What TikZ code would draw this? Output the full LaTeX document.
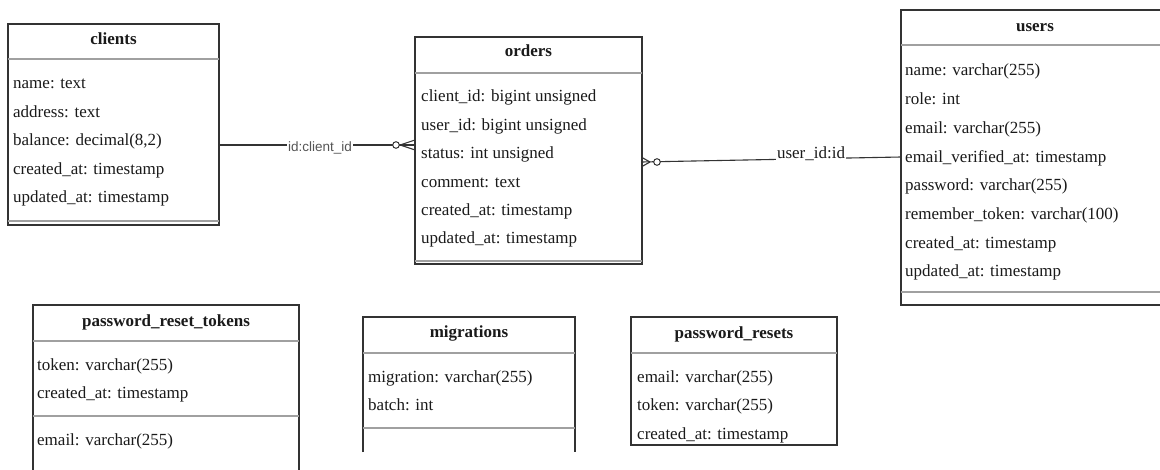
\documentclass[tikz,border=0pt]{standalone}
\usepackage{fontspec}
\setmainfont{Liberation Serif}
\newfontfamily\lsans{Liberation Sans}
\definecolor{bord}{HTML}{333333}
\definecolor{txt}{HTML}{1A1A1A}
\definecolor{sepc}{HTML}{A0A0A0}
\definecolor{lblc}{HTML}{555555}
\tikzset{
  tbl/.style={draw=bord, line width=1.2pt, inner sep=0pt, outer sep=0pt, anchor=north west},
  ttl/.style={font=\fontsize{17}{20}\selectfont\bfseries, anchor=base, inner sep=0pt, text=txt},
  fld/.style={font=\fontsize{17}{20}\selectfont, anchor=base west, inner sep=0pt, text=txt},
  hsep/.style={draw=sepc, line width=1.6pt},
  ssep/.style={draw=sepc, line width=1.2pt},
  conn/.style={draw=bord, line width=1.1pt},
  circ/.style={circle, draw=bord, fill=white, line width=1pt, inner sep=0pt, minimum size=6.6pt},
  lblsans/.style={font=\lsans\fontsize{13.5}{15}\selectfont, text=lblc, fill=white, inner sep=1pt},
  lblserif/.style={font=\fontsize{17}{20}\selectfont, text=txt, fill=white, inner sep=1pt, anchor=base}
}
\begin{document}
\begin{tikzpicture}[x=1pt,y=-1pt]
\useasboundingbox (0,0) rectangle (1160,470);
\clip (0,0) rectangle (1160,470);
\fill[white] (0,0) rectangle (1160,470);

% clients
\node[tbl, minimum width=211pt, minimum height=201pt] (clients) at (8,24) {};
\node[ttl] (clientsT) at (113.5,45) {clients};
\draw[hsep] (8,59) -- (219,59);
\foreach \t [count=\i from 0] in {name: text, address: text, {balance: decimal(8,2)}, created\_at: timestamp, updated\_at: timestamp}
  \node[fld] (clientsF\i) at (13,{89+28.4*\i}) {\t};
\draw[ssep] (8,221) -- (219,221);

% orders
\node[tbl, minimum width=227pt, minimum height=227pt] (orders) at (415,37) {};
\node[ttl] (ordersT) at (528.5,57) {orders};
\draw[hsep] (415,73) -- (642,73);
\foreach \t [count=\i from 0] in {client\_id: bigint unsigned, user\_id: bigint unsigned, status: int unsigned, comment: text, created\_at: timestamp, updated\_at: timestamp}
  \node[fld] (ordersF\i) at (421,{102+28.4*\i}) {\t};
\draw[ssep] (415,261) -- (642,261);

% users
\node[tbl, minimum width=268pt, minimum height=295pt] (users) at (901,10) {};
\node[ttl] (usersT) at (1035,32) {users};
\draw[hsep] (901,45) -- (1169,45);
\foreach \t [count=\i from 0] in {name: varchar(255), role: int, email: varchar(255), email\_verified\_at: timestamp, password: varchar(255), remember\_token: varchar(100), created\_at: timestamp, updated\_at: timestamp}
  \node[fld] (usersF\i) at (905,{76+28.7*\i}) {\t};
\draw[ssep] (901,292) -- (1169,292);

% password_reset_tokens
\node[tbl, minimum width=266pt, minimum height=200pt] (prt) at (33,305) {};
\node[ttl] (prtT) at (166,327) {password\_reset\_tokens};
\draw[hsep] (33,341) -- (299,341);
\node[fld] (prtF0) at (37,371) {token: varchar(255)};
\node[fld] (prtF1) at (37,399) {created\_at: timestamp};
\draw[ssep] (33,416) -- (299,416);
\node[fld] (prtF2) at (37,446) {email: varchar(255)};

% migrations
\node[inner sep=0pt, outer sep=0pt, anchor=north west, minimum width=212pt, minimum height=135pt] (migr) at (363,317) {};
\draw[bord, line width=1.2pt] (migr.south west) -- (migr.north west) -- (migr.north east) -- (migr.south east);
\node[ttl] (migrT) at (469,338) {migrations};
\draw[hsep] (363,353) -- (575,353);
\node[fld] (migrF0) at (368,383) {migration: varchar(255)};
\node[fld] (migrF1) at (368,410) {batch: int};
\draw[ssep] (363,428) -- (575,428);

% password_resets
\node[tbl, minimum width=206pt, minimum height=128pt] (pres) at (631,317) {};
\node[ttl] (presT) at (734,339) {password\_resets};
\draw[hsep] (631,353) -- (837,353);
\node[fld] (presF0) at (637,383) {email: varchar(255)};
\node[fld] (presF1) at (637,410) {token: varchar(255)};
\node[fld] (presF2) at (637,439) {created\_at: timestamp};

% connector clients -> orders
\coordinate (c1a) at (clients.east |- 0,145);
\coordinate (c1b) at (orders.west |- 0,145);
\draw[conn] (c1a) -- (c1b);
\coordinate (f1) at (400,145);
\draw[conn] (f1) -- (orders.west |- 0,140);
\draw[conn] (f1) -- (orders.west |- 0,150);
\node[circ] (o1) at (396,145) {};
\node[lblsans] (l1) at (320,147.5) {id:client\_id};

% connector orders -> users
\coordinate (c2a) at (orders.east |- 0,162);
\coordinate (c2b) at (users.west |- 0,157);
\draw[conn] (c2a) -- (c2b);
\coordinate (f2) at (650,162);
\draw[conn] (f2) -- (orders.east |- 0,157.5);
\draw[conn] (f2) -- (orders.east |- 0,166.5);
\node[circ] (o2) at (657,162) {};
\node[lblserif] (l2) at (811,159) {user\_id:id};
\end{tikzpicture}
\end{document}
